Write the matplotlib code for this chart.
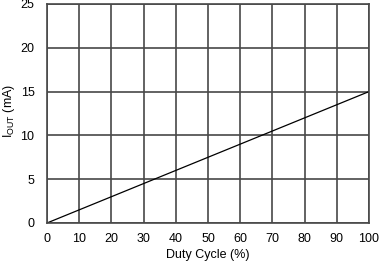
import numpy as np
import matplotlib.pyplot as plt

plt.rcParams['font.family'] = ['Liberation Sans', 'DejaVu Sans']

# Duty cycle (%) vs output current (mA)
duty = [0, 100]
iout = [0, 15]

x_ticks = list(range(0, 101, 10))
y_ticks = list(range(0, 26, 5))

fig = plt.figure(figsize=(3.8, 2.66), dpi=100)
ax = fig.add_axes([0.1237, 0.1617, 0.8473, 0.8233])
ax.plot(duty, iout, color='black', linewidth=0.9)

ax.set_xlim(0, 100)
ax.set_ylim(0, 25)
ax.set_xticks(x_ticks)
ax.set_yticks(y_ticks)
ax.tick_params(axis='x', length=0, labelsize=9, pad=7)
ax.tick_params(axis='y', length=0, labelsize=9, pad=9)
ax.grid(True, color='#484848', linewidth=1.2)
for s in ax.spines.values():
    s.set_color('#484848')
    s.set_linewidth(1.2)

ax.set_xlabel('Duty Cycle (%)', fontsize=9, labelpad=3)
ax.set_ylabel(r'I$_{\mathregular{OUT}}$ (mA)', fontsize=9)
ax.yaxis.set_label_coords(-0.094, 0.51)

fig.savefig('out.png', dpi=100)
